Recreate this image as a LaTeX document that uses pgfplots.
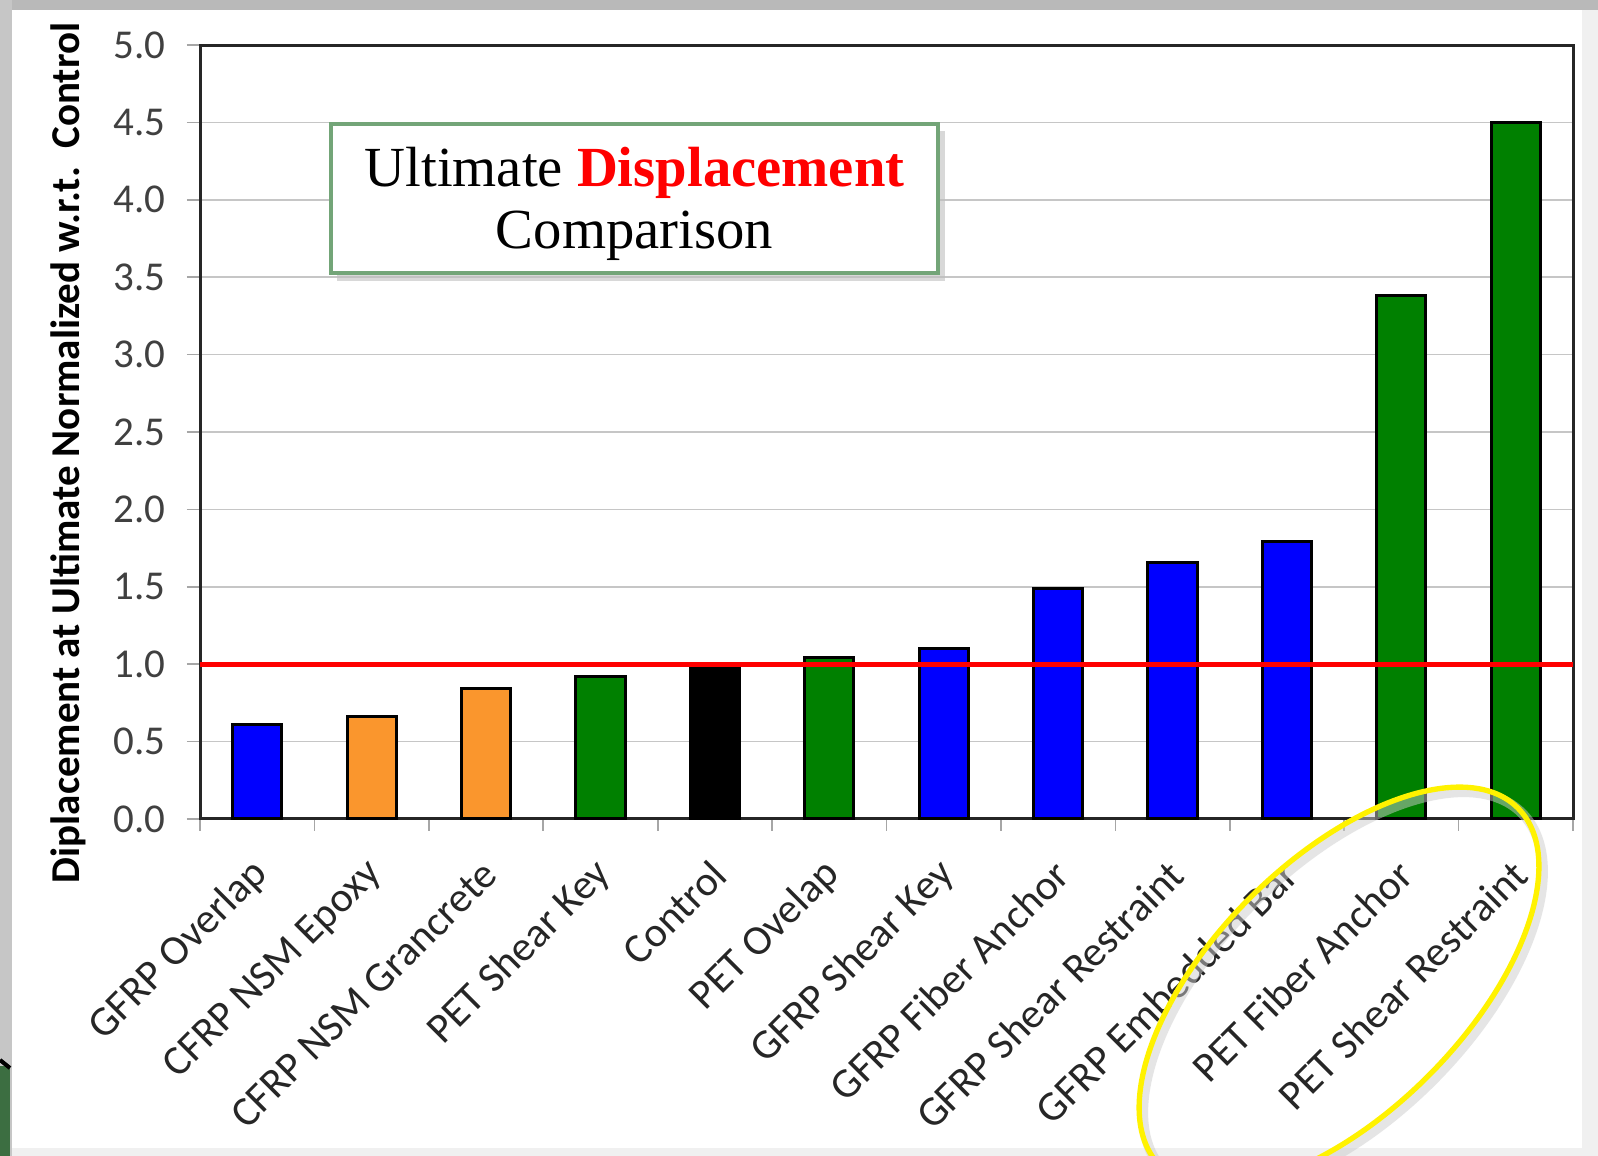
\documentclass[border=0pt]{standalone}
\usepackage{pgfplots}
\pgfplotsset{compat=1.18}
\usepackage{fontspec}
\setmainfont{Carlito}
\newfontfamily\titleserif{Liberation Serif}
\definecolor{barblue}{RGB}{0,0,255}
\definecolor{barorange}{RGB}{250,150,45}
\definecolor{bargreen}{RGB}{0,128,0}
\definecolor{boxgreen}{RGB}{115,165,120}
\definecolor{darkleft}{RGB}{60,110,65}
\begin{document}
\begin{tikzpicture}
\clip (0pt,0pt) rectangle (479.4pt,-346.8pt);
\begin{scope}[x=0.3pt,y=-0.3pt]
\fill[gray!12] (0,0) rectangle (1598,1156);
\fill[gray!55] (0,0) rectangle (1598,10);
\fill[gray!45] (0,0) rectangle (12,1156);
\fill[darkleft] (0,1066) rectangle (10,1156);
\draw[black,line width=1.2pt] (0,1060) -- (10,1068);
\fill[white] (12,10) rectangle (1582,1148);
\end{scope}
\begin{axis}[
  at={(60pt,-245.7pt)}, anchor=south west, scale only axis,
  width=411.9pt, height=232.2pt,
  xmin=-0.5, xmax=11.5, ymin=0, ymax=5,
  axis line style={black!85, line width=0.9pt},
  ytick={0,0.5,...,5},
  /pgf/number format/fixed, /pgf/number format/fixed zerofill,
  /pgf/number format/precision=1, /pgf/number format/assume math mode=true,
  yticklabel style={font=\fontsize{12.3}{14}\selectfont, text=black!75, xshift=-3pt},
  xtick={0,...,11},
  xticklabels={GFRP Overlap, CFRP NSM Epoxy, CFRP NSM Grancrete, PET Shear Key, Control, PET Ovelap, GFRP Shear Key, GFRP Fiber Anchor, GFRP Shear Restraint, GFRP Embedded Bar, PET Fiber Anchor, PET Shear Restraint},
  xticklabel style={rotate=45, anchor=east, font=\fontsize{12.6}{14}\selectfont, text=black!85, inner sep=1pt, xshift=-5.6pt, yshift=-8.5pt},
  minor xtick={-0.5,0.5,...,11.5},
  xtick pos=bottom, ytick pos=left,
  tick align=outside,
  major tick length=3.9pt, minor tick length=3.6pt,
  major x tick style={draw=none},
  tick style={gray!70, line width=0.5pt},
  ymajorgrids, grid style={gray!45, line width=0.5pt},
  clip=false,
]
\addplot[ybar, bar width=0.43, bar shift=0pt, fill=barblue, draw=black, line width=0.9pt]
  coordinates {(0,0.61) (6,1.10) (7,1.49) (8,1.66) (9,1.79)};
\addplot[ybar, bar width=0.43, bar shift=0pt, fill=barorange, draw=black, line width=0.9pt]
  coordinates {(1,0.66) (2,0.84)};
\addplot[ybar, bar width=0.43, bar shift=0pt, fill=bargreen, draw=black, line width=0.9pt]
  coordinates {(3,0.92) (5,1.045) (10,3.38) (11,4.50)};
\addplot[ybar, bar width=0.43, bar shift=0pt, fill=black, draw=black, line width=0.9pt]
  coordinates {(4,1.00)};
\addplot[red, line width=1.5pt] coordinates {(-0.5,1) (11.5,1)};
\end{axis}
\begin{scope}[x=0.3pt,y=-0.3pt]
% title box
\fill[gray!50, opacity=0.6] (337,131) rectangle (945,281);
\draw[boxgreen, fill=white, line width=1.2pt] (331,124) rectangle (938,273);
\node[font=\titleserif\fontsize{17}{18.5}\selectfont, align=center] at (634.5,204)
  {Ultimate \textcolor{red}{\textbf{Displacement}}\\Comparison};
% y label
\node[rotate=90, font=\bfseries\fontsize{12.3}{14}\selectfont] at (68,453)
  {Diplacement at Ultimate Normalized w.r.t.\ \ Control};
% highlight ellipse
\begin{scope}[shift={(1343,992)}, rotate=45]
\draw[gray!40, opacity=0.5, line width=3pt] (0,0) ellipse [x radius=75.9pt, y radius=37.8pt];
\end{scope}
\begin{scope}[shift={(1339,987)}, rotate=45]
\draw[yellow, line width=1.6pt] (0,0) ellipse [x radius=75.9pt, y radius=37.8pt];
\end{scope}
\end{scope}
\end{tikzpicture}
\end{document}
